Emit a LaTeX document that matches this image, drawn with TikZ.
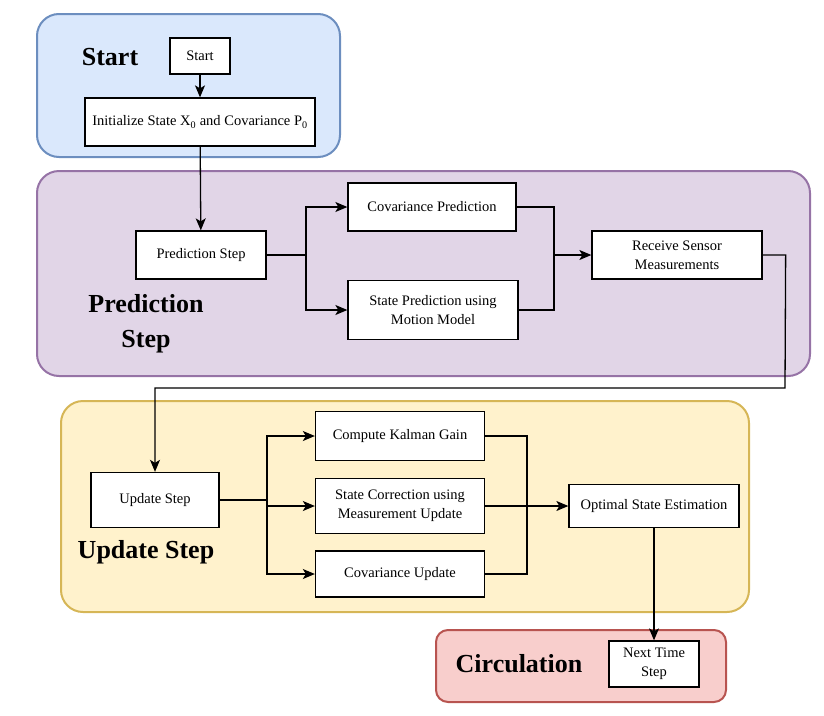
\documentclass[tikz,border=0pt]{standalone}
\usepackage{fontspec}
\setmainfont{Liberation Serif}
\usetikzlibrary{arrows.meta}
\definecolor{startfill}{HTML}{DAE8FC}\definecolor{startline}{HTML}{6C8EBF}
\definecolor{predfill}{HTML}{E1D5E7}\definecolor{predline}{HTML}{9673A6}
\definecolor{updfill}{HTML}{FFF2CC}\definecolor{updline}{HTML}{D6B656}
\definecolor{circfill}{HTML}{F8CECC}\definecolor{circline}{HTML}{B85450}
\begin{document}
\begin{tikzpicture}[x=1pt,y=-1pt,
  container/.style={rounded corners=22pt,line width=2pt},
  box/.style={draw,fill=white,line width=1.3pt,font=\fontsize{14.5}{19}\selectfont,align=center,inner sep=0pt},
  title/.style={font=\fontsize{26}{35}\selectfont\bfseries,align=center},
  arr/.style={line width=1.3pt,-{Stealth[length=12pt,width=10pt,inset=3pt]}},
  ln/.style={line width=1.3pt}]
\useasboundingbox (0,0) rectangle (824,715);
% containers
\draw[container,fill=startfill,draw=startline] (37,14) rectangle (340,157);
\draw[container,fill=predfill,draw=predline] (37,171) rectangle (810,376);
\draw[container,fill=updfill,draw=updline] (61,401) rectangle (749,612);
\draw[container,rounded corners=12pt,fill=circfill,draw=circline] (436,630) rectangle (726,702);
% titles
\node[title] (tstart) at (110,57) {Start};
\node[title] (tpred) at (146,324) {Prediction\\Step};
\node[title] (tupd) at (146,552) {Update Step};
\node[title] (tcirc) at (519,664) {Circulation};
% boxes
\node[box,minimum width=60pt,minimum height=36pt] (start) at (200,56) {Start};
\node[box,minimum width=230pt,minimum height=48pt] (init) at (200,122) {Initialize State X\textsubscript{0} and Covariance P\textsubscript{0}};
\node[box,minimum width=130pt,minimum height=48pt] (pstep) at (201,255) {Prediction Step};
\node[box,minimum width=168pt,minimum height=48pt] (covp) at (432,207) {Covariance Prediction};
\node[box,minimum width=170pt,minimum height=59pt] (statep) at (433,310) {State Prediction using\\Motion Model};
\node[box,minimum width=170pt,minimum height=48pt] (recv) at (677,255) {Receive Sensor\\Measurements};
\node[box,minimum width=128pt,minimum height=55pt] (ustep) at (155,500) {Update Step};
\node[box,minimum width=169pt,minimum height=49pt] (kal) at (400,436) {Compute Kalman Gain};
\node[box,minimum width=169pt,minimum height=55pt] (scorr) at (400,506) {State Correction using\\Measurement Update};
\node[box,minimum width=169pt,minimum height=46pt] (covu) at (400,574) {Covariance Update};
\node[box,minimum width=170pt,minimum height=43pt] (opt) at (654,506) {Optimal State Estimation};
\node[box,minimum width=90pt,minimum height=46pt] (next) at (654,664) {Next Time\\Step};
% connectors
\coordinate (pj) at (306,255);
\coordinate (cj) at (554,255);
\coordinate (rj) at (785,388);
\coordinate (uj) at (267,500);
\coordinate (kj) at (527,506);
\draw[arr] (start) -- (init);
\draw[arr] (init) -- (pstep);
\draw[ln] (pstep) -- (pj);
\draw[arr] (pj) |- (covp.west);
\draw[arr] (pj) |- (statep.west);
\draw[ln] (covp.east) -| (cj);
\draw[ln] (statep.east) -| (cj);
\draw[arr] (cj) -- (recv);
\draw[arr] (recv.east) -- ++(23,0) -- (rj) -- (ustep.north |- rj) -- (ustep.north);
\draw[ln] (ustep) -- (uj);
\draw[arr] (uj) |- (kal.west);
\draw[arr] (uj |- scorr.west) -- (scorr.west);
\draw[arr] (uj) |- (covu.west);
\draw[ln] (kal.east) -| (kj);
\draw[ln] (covu.east) -| (kj);
\draw[arr] (scorr.east) -- (opt.west);
\draw[arr] (opt) -- (next);
\end{tikzpicture}
\end{document}
